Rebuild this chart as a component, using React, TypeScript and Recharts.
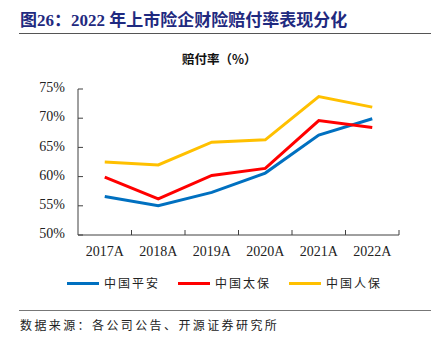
import { LineChart, Line, XAxis, YAxis } from "recharts";

// 赔付率 (%) by year
const years = ["2017A", "2018A", "2019A", "2020A", "2021A", "2022A"];
const pingAn = [56.6, 55.0, 57.3, 60.6, 67.1, 69.9];
const cpic = [59.9, 56.2, 60.2, 61.4, 69.6, 68.4];
const picc = [62.5, 62.0, 65.9, 66.3, 73.7, 71.9];
const yTicks = [50, 55, 60, 65, 70, 75];

const series = [
  { key: "pingAn", name: "中国平安", color: "#0070C0" },
  { key: "cpic", name: "中国太保", color: "#FF0000" },
  { key: "picc", name: "中国人保", color: "#FFC000" },
];

const data = years.map((year, i) => ({
  year,
  pingAn: pingAn[i],
  cpic: cpic[i],
  picc: picc[i],
}));

// layout
const W = 434;
const CHART_H = 270;
const M = { top: 89, right: 35, left: 18, bottom: 0 };
const Y_W = 60;
const X_H = 35;
const BAND = (W - M.right - M.left - Y_W) / years.length;
const AXIS = "#404040";
const SERIF = '"Liberation Serif", "Times New Roman", serif';
const CJK = '"Noto Sans CJK SC", sans-serif';

function XTick(props: any) {
  const { x, y, payload } = props;
  const edge = x + BAND / 2;
  return (
    <g>
      <line x1={edge} y1={y} x2={edge} y2={y - 5} stroke={AXIS} />
      <text
        x={x}
        y={y + 18}
        textAnchor="middle"
        dominantBaseline="middle"
        fontFamily={SERIF}
        fontSize={14}
        fill="#222"
      >
        {payload.value}
      </text>
    </g>
  );
}

function YTick(props: any) {
  const { x, y, payload } = props;
  return (
    <g>
      <line x1={x} y1={y} x2={x + 5} y2={y} stroke={AXIS} />
      <text
        x={x - 13}
        y={y}
        textAnchor="end"
        dominantBaseline="middle"
        fontFamily={SERIF}
        fontSize={14}
        fill="#222"
      >
        {`${payload.value}%`}
      </text>
    </g>
  );
}

export default function App() {
  return (
    <div
      style={{
        position: "absolute",
        top: 0,
        left: 0,
        width: W,
        height: 350,
        background: "#fff",
        fontFamily: CJK,
      }}
    >
      <div
        style={{
          position: "absolute",
          left: 20,
          top: 10,
          fontFamily: `${SERIF.split(",")[0]}, ${CJK}`,
          fontWeight: "bold",
          fontSize: 17,
          lineHeight: "22px",
          color: "#1F2A80",
          whiteSpace: "nowrap",
        }}
      >
        图26：2022 年上市险企财险赔付率表现分化
      </div>
      <div
        style={{
          position: "absolute",
          left: 19,
          top: 33,
          width: 412,
          height: 1,
          background: "#555",
        }}
      />
      <div
        style={{
          position: "absolute",
          left: 182,
          top: 51,
          fontSize: 12.5,
          lineHeight: "16px",
          fontWeight: "bold",
          color: "#111",
          whiteSpace: "nowrap",
        }}
      >
        赔付率（%）
      </div>

      <div style={{ position: "absolute", top: 0, left: 0 }}>
        <LineChart width={W} height={CHART_H} data={data} margin={M}>
          <XAxis
            dataKey="year"
            height={X_H}
            stroke={AXIS}
            padding={{ left: BAND / 2, right: BAND / 2 }}
            tickLine={false}
            tickSize={0}
            tickMargin={0}
            interval={0}
            tick={<XTick />}
          />
          <YAxis
            width={Y_W}
            domain={[50, 75]}
            ticks={yTicks}
            stroke={AXIS}
            tickLine={false}
            tickSize={0}
            tickMargin={0}
            interval={0}
            tick={<YTick />}
          />
          {series.map((s) => (
            <Line
              key={s.key}
              dataKey={s.key}
              name={s.name}
              stroke={s.color}
              strokeWidth={3}
              dot={false}
              activeDot={false}
              isAnimationActive={false}
            />
          ))}
        </LineChart>
      </div>

      <div
        style={{
          position: "absolute",
          top: 274,
          left: 67,
          display: "flex",
          gap: 18,
          alignItems: "center",
        }}
      >
        {series.map((s) => (
          <div key={s.key} style={{ display: "flex", alignItems: "center" }}>
            <div style={{ width: 32, height: 3, background: s.color }} />
            <span
              style={{
                marginLeft: 5,
                fontSize: 12,
                letterSpacing: 2,
                lineHeight: "18px",
                color: "#222",
              }}
            >
              {s.name}
            </span>
          </div>
        ))}
      </div>

      <div
        style={{
          position: "absolute",
          left: 19,
          top: 310,
          width: 412,
          height: 1,
          background: "#777",
        }}
      />
      <div
        style={{
          position: "absolute",
          left: 20,
          top: 316,
          fontSize: 12,
          letterSpacing: 2.4,
          lineHeight: "17px",
          color: "#222",
          whiteSpace: "nowrap",
        }}
      >
        数据来源：各公司公告、开源证券研究所
      </div>
    </div>
  );
}
